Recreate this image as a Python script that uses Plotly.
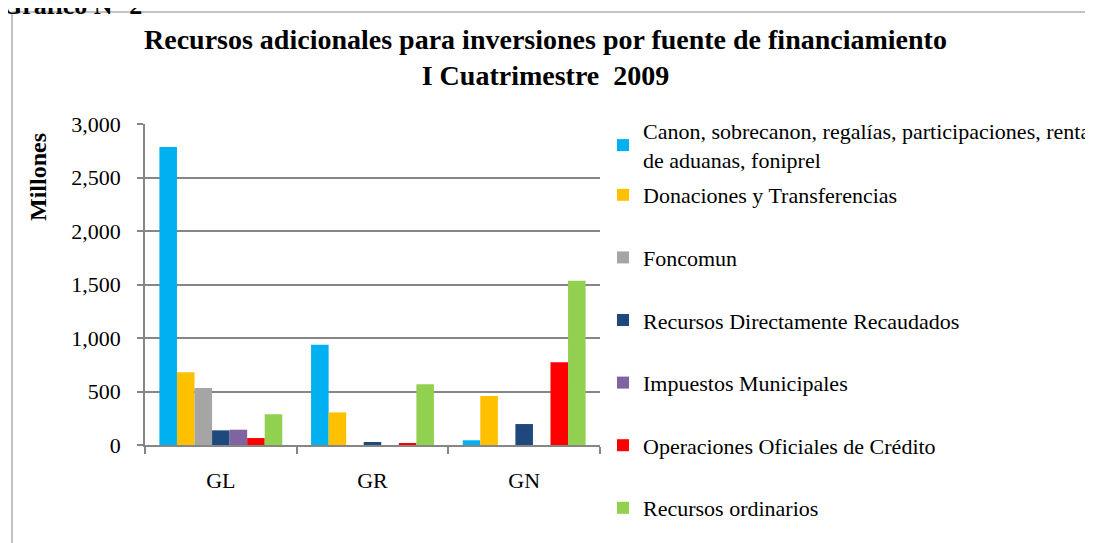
import plotly.graph_objects as go

categories = ["GL", "GR", "GN"]
series_names = [
    "Canon, sobrecanon, regalías, participaciones, renta<br>de aduanas, foniprel",
    "Donaciones y Transferencias",
    "Foncomun",
    "Recursos Directamente Recaudados",
    "Impuestos Municipales",
    "Operaciones Oficiales de Crédito",
    "Recursos ordinarios",
]
canon = [2785, 937, 44]
donaciones = [679, 305, 458]
foncomun = [533, 0, 0]
rdr = [137, 28, 196]
impuestos = [143, 0, 0]
operaciones = [65, 12, 773]
ordinarios = [287, 567, 1535]
series_values = [canon, donaciones, foncomun, rdr, impuestos, operaciones, ordinarios]
colors = ["#00B0F0", "#FFC000", "#A5A5A5", "#1F497D", "#8064A2", "#FF0000", "#92D050"]
y_ticks = [0, 500, 1000, 1500, 2000, 2500, 3000]

# page body adds an 8px offset; work in screen pixels and convert
OFF = 8
W, H = 1093 - OFF, 543 - OFF
L, R, T, B = 145 - OFF, 600 - OFF, 124 - OFF, 445 - OFF
pw, ph = R - L, B - T

def px_x(p):  # screen pixel -> paper
    return (p - OFF - L) / pw

def px_y(p):
    return (B - (p - OFF)) / ph

def cx(p):  # screen pixel -> container fraction
    return (p - OFF) / W

def cy(p):
    return 1 - (p - OFF) / H

serif = "Liberation Serif, Times New Roman, serif"

fig = go.Figure()
for i, (name, vals, col) in enumerate(zip(series_names, series_values, colors)):
    fig.add_trace(go.Bar(
        x=categories, y=vals, name=name,
        marker=dict(color=col, line=dict(width=0)),
        legendgroup=f"g{i}",
        legend="legend" if i == 0 else "legend2",
    ))

legend_common = dict(
    xref="container", yref="container", xanchor="left", yanchor="top",
    font=dict(size=22, family=serif), bgcolor="rgba(0,0,0,0)",
    itemwidth=30, maxheight=1.0,
)

fig.update_layout(
    width=W, height=H,
    margin=dict(l=L, r=W - R, t=T, b=H - B, autoexpand=False),
    paper_bgcolor="white", plot_bgcolor="white",
    barmode="group", bargap=0.19, bargroupgap=0,
    font=dict(family=serif, color="black", size=21),
    xaxis=dict(
        type="category", tickson="boundaries", ticks="outside", ticklen=7,
        tickcolor="#868686", tickwidth=1.5, showline=True, linecolor="#868686",
        linewidth=1.5, showgrid=False, tickfont=dict(size=22, family=serif),
        ticklabelstandoff=15,
    ),
    yaxis=dict(
        range=[0, 3000], tickvals=y_ticks, tickformat=",d", ticks="outside",
        ticklen=6, tickcolor="#868686", tickwidth=1.5, showline=True,
        linecolor="#868686", linewidth=1.5, showgrid=True, gridcolor="#868686",
        gridwidth=1.5, tickfont=dict(size=22, family=serif), zeroline=False,
        ticklabelstandoff=12,
    ),
    legend=dict(x=cx(603), y=cy(110), **legend_common),
    legend2=dict(x=cx(603), y=cy(174), tracegroupgap=31, **legend_common),
    showlegend=True,
)

fig.add_annotation(
    text="<b>Recursos adicionales para inversiones por fuente de financiamiento<br>I Cuatrimestre  2009</b>",
    xref="paper", yref="paper", x=px_x(545), y=px_y(58), xanchor="center", yanchor="middle",
    showarrow=False, font=dict(size=28, family=serif), align="center",
)
fig.add_annotation(
    text="<b>Millones</b>", xref="paper", yref="paper", x=px_x(38), y=px_y(177),
    xanchor="center", yanchor="middle", textangle=-90, showarrow=False,
    font=dict(size=24, family=serif),
)
fig.add_annotation(
    text="<b>Gráfico N° 2</b>", xref="paper", yref="paper", x=px_x(0), y=px_y(22),
    xanchor="left", yanchor="bottom", showarrow=False,
    font=dict(size=26, family=serif),
)
fig.add_shape(
    type="rect", xref="paper", yref="paper",
    x0=px_x(12), x1=px_x(1091), y0=px_y(12), y1=px_y(570),
    line=dict(color="#868686", width=1), fillcolor="rgba(0,0,0,0)", layer="below",
)

fig.write_html("out.html")
